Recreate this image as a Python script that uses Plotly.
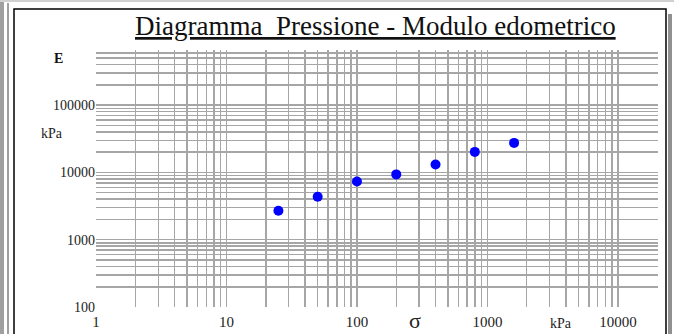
import plotly.graph_objects as go

sigma_kpa = [25, 50, 100, 200, 400, 800, 1600]
E_kpa = [2700, 4350, 7350, 9350, 13150, 20200, 27500]

x_decades = [1, 10, 100, 1000, 10000]
y_decades = [100, 1000, 10000, 100000]
x_tick_labels = ["1", "10", "100", "1000", "10000"]
y_tick_labels = ["100", "1000", "10000", "100000"]

W, H = 674, 334
L, R, T, B = 96, 16, 50, 27
pw, ph = W - L - R, H - T - B

def grid_vals(decades):
    vals = []
    for d in decades:
        for m in range(1, 10):
            vals.append(d * m)
    return vals

xvals = [v for v in grid_vals(x_decades) if v <= 20000]
yvals = [v for v in grid_vals(y_decades) if v <= 700000]
xtext = [x_tick_labels[x_decades.index(v)] if v in x_decades else "" for v in xvals]
ytext = [y_tick_labels[y_decades.index(v)] if v in y_decades else "" for v in yvals]

fig = go.Figure()
fig.add_trace(go.Scatter(
    x=sigma_kpa, y=E_kpa, mode="markers",
    marker=dict(color="#0000ff", size=10, line=dict(width=0)),
    showlegend=False, hoverinfo="skip",
))

font = "Liberation Serif"
fig.update_xaxes(type="log", range=[0, 4.307], tickmode="array",
                 tickvals=xvals, ticktext=xtext, showgrid=True,
                 gridcolor="#a6a6a6", gridwidth=1.5, zeroline=False,
                 showline=False, ticks="", ticklabelstandoff=4, automargin=False,
                 tickfont=dict(family=font, size=15, color="#222"))
fig.update_yaxes(type="log", range=[2, 5.82], tickmode="array",
                 tickvals=yvals, ticktext=ytext, showgrid=True,
                 gridcolor="#a6a6a6", gridwidth=1.5, zeroline=False,
                 showline=False, ticks="", automargin=False,
                 tickfont=dict(family=font, size=14, color="#222"))

def px(x):
    return (x - L) / pw

def py(y):
    return 1 - (y - T) / ph

shapes = [
    dict(type="rect", xref="paper", yref="paper", x0=px(0), x1=px(4), y0=py(334), y1=py(0),
         fillcolor="#a0a0a0", line=dict(width=0), layer="below"),
    dict(type="line", xref="paper", yref="paper", x0=px(8), x1=px(8), y0=py(334), y1=py(3),
         line=dict(color="#a0a0a0", width=2)),
    dict(type="line", xref="paper", yref="paper", x0=px(0), x1=px(674), y0=py(1), y1=py(1),
         line=dict(color="#d0d0d0", width=2)),
    dict(type="rect", xref="paper", yref="paper", x0=px(668), x1=px(672), y0=py(334), y1=py(14),
         fillcolor="#909090", line=dict(width=0)),
    dict(type="rect", xref="paper", yref="paper", x0=px(14), x1=px(666), y0=py(340), y1=py(9),
         fillcolor="rgba(0,0,0,0)", line=dict(color="#000", width=1.5)),
]

annotations = [
    dict(text="<u>Diagramma\u00a0 Pressione - Modulo edometrico</u>", xref="paper", yref="paper",
         x=px(375), y=py(26), showarrow=False, xanchor="center", yanchor="middle",
         font=dict(family=font, size=27, color="#111")),
    dict(text="<b>E</b>", xref="paper", yref="paper", x=px(58), y=py(58), showarrow=False,
         xanchor="center", yanchor="middle", font=dict(family=font, size=14, color="#111")),
    dict(text="kPa", xref="paper", yref="paper", x=px(52), y=py(133), showarrow=False,
         xanchor="center", yanchor="middle", font=dict(family=font, size=14, color="#222")),
    dict(text="σ", xref="paper", yref="paper", x=px(415), y=py(320), showarrow=False,
         xanchor="center", yanchor="middle", font=dict(family=font, size=22, color="#222")),
    dict(text="kPa", xref="paper", yref="paper", x=px(561), y=py(323), showarrow=False,
         xanchor="center", yanchor="middle", font=dict(family=font, size=14, color="#222")),
]

fig.update_layout(
    width=W, height=H, margin=dict(l=L, r=R, t=T, b=B, pad=0, autoexpand=False),
    paper_bgcolor="white", plot_bgcolor="white",
    font=dict(family=font),
    shapes=shapes, annotations=annotations,
)

fig.write_html("out.html", config={"displayModeBar": False, "staticPlot": True},
               post_script="document.body.style.margin='0';document.body.style.overflow='hidden';")
